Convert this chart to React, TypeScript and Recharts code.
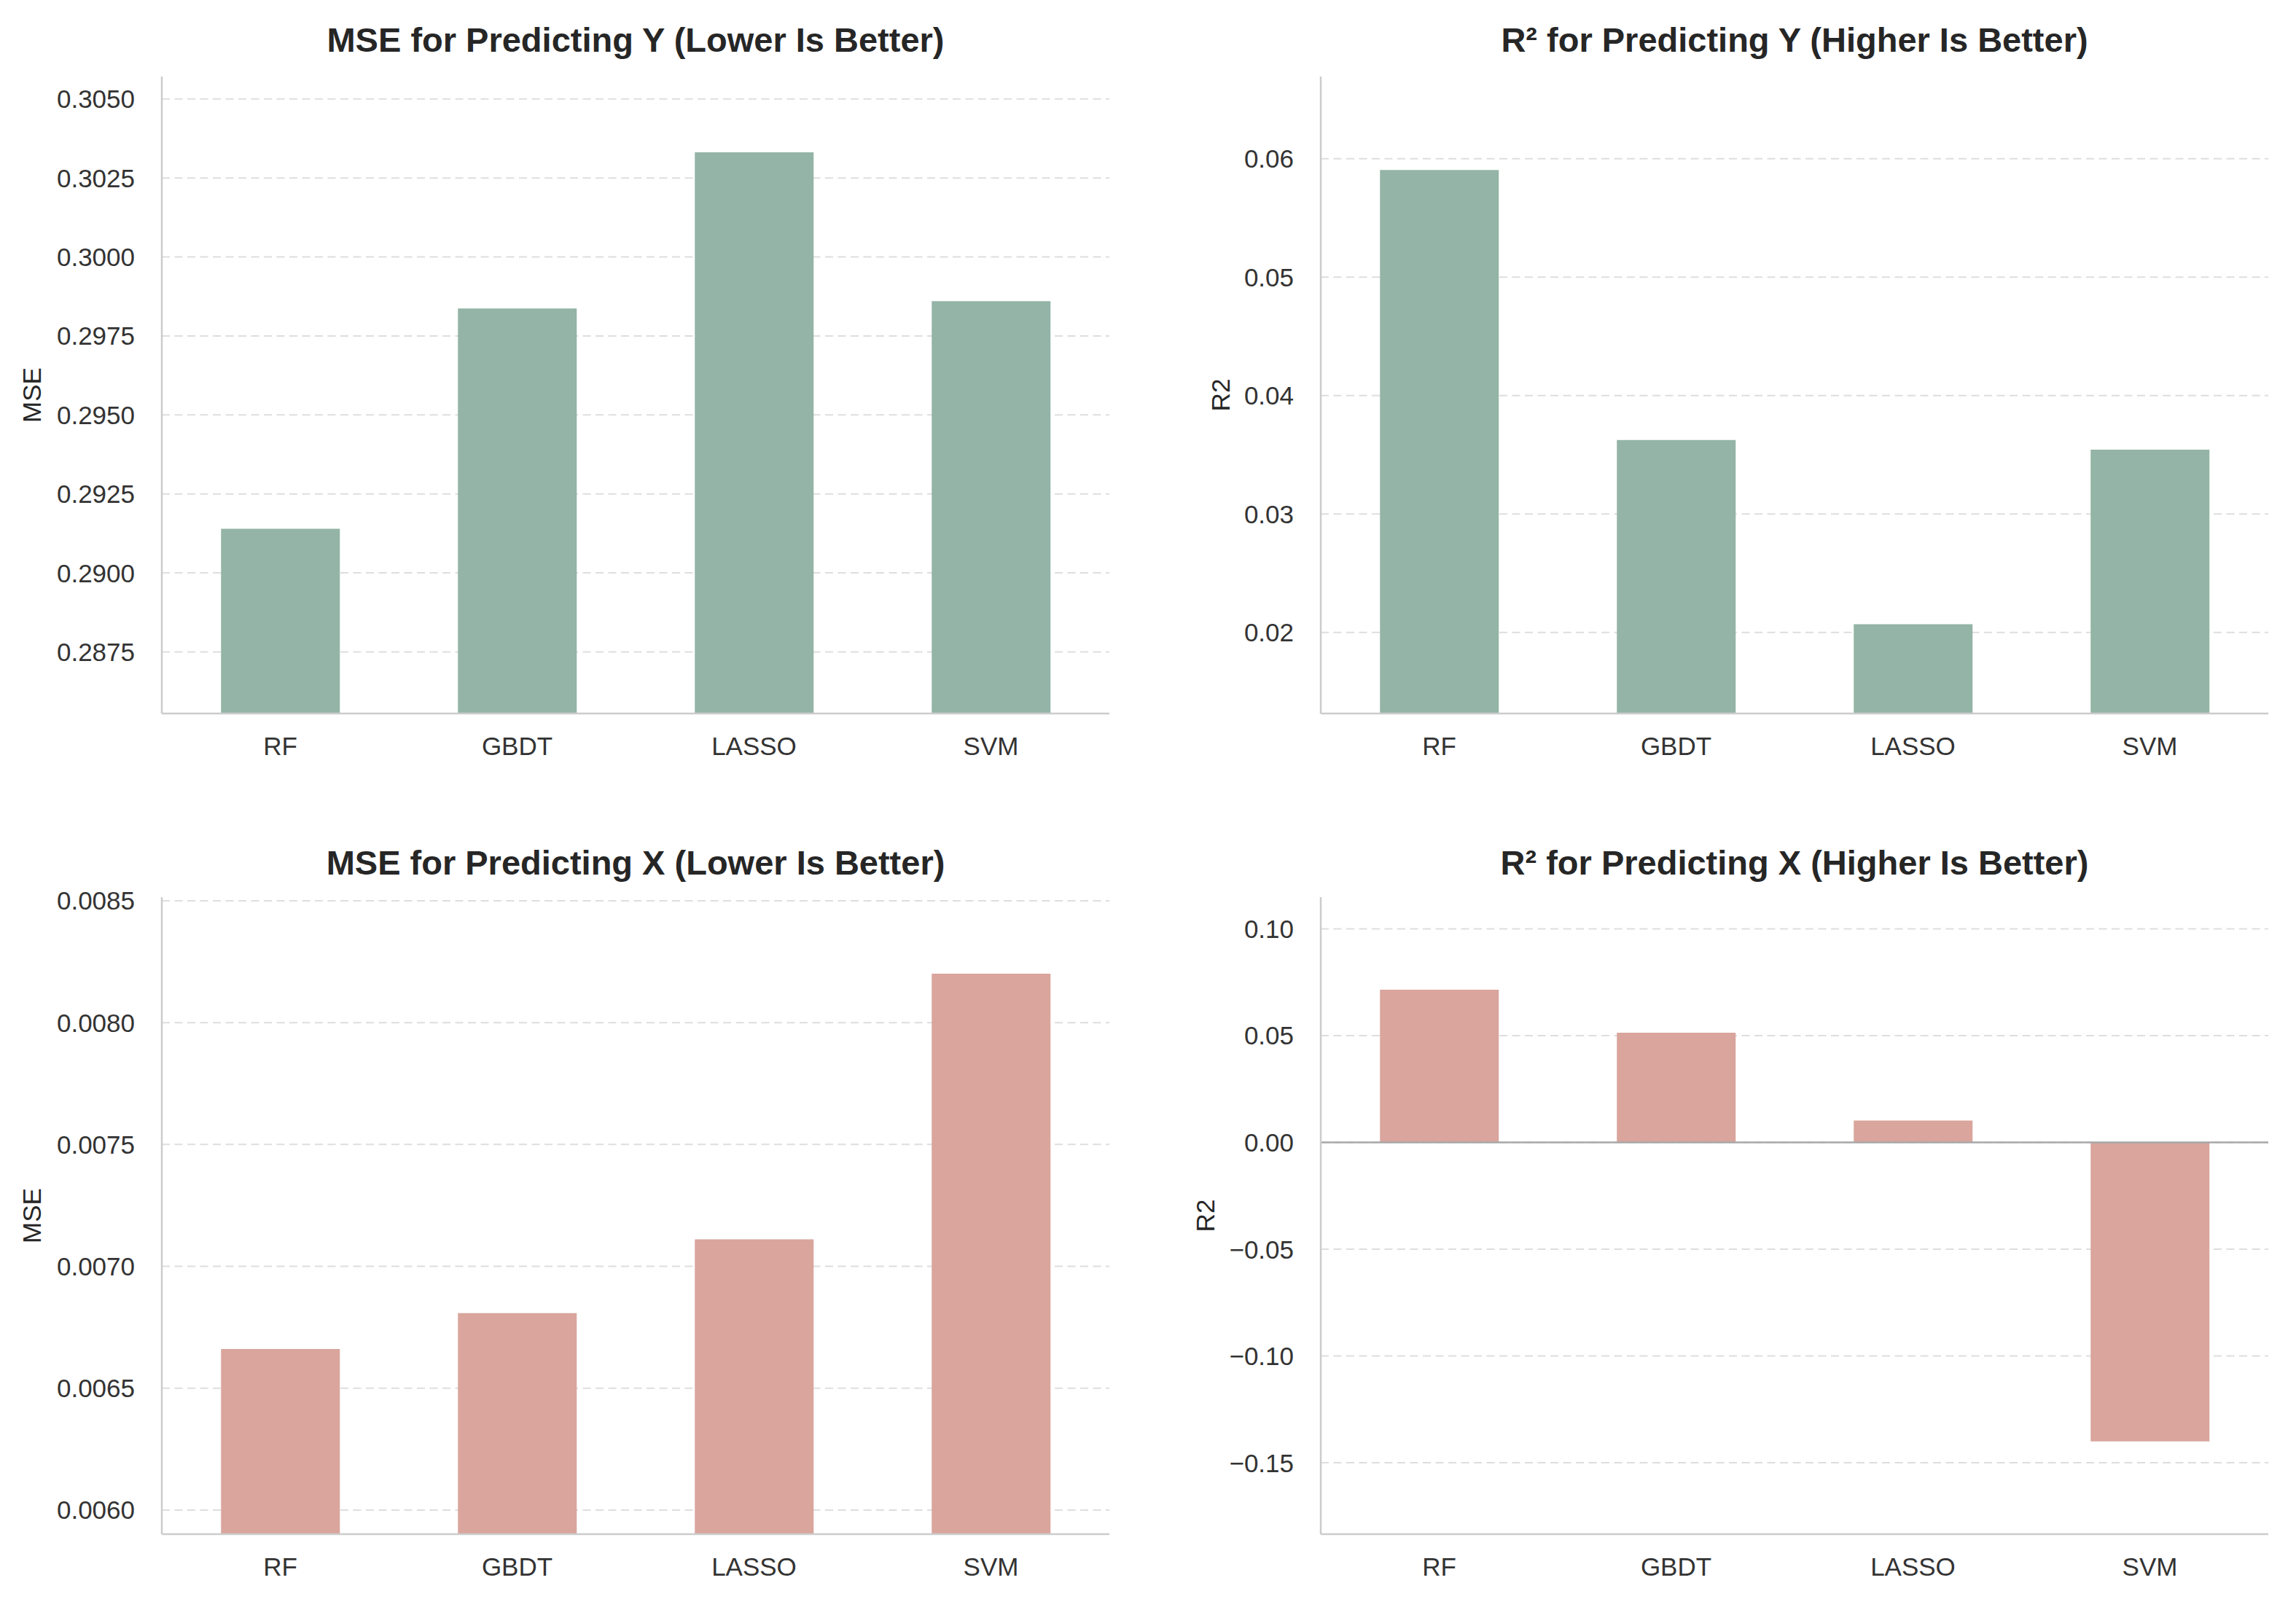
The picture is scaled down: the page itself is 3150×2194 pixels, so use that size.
import React from 'react';
import { BarChart, Bar, XAxis, YAxis, CartesianGrid, ReferenceLine } from 'recharts';

// models on the x axis
const models = ['RF', 'GBDT', 'LASSO', 'SVM'];

// values
const mseY = [0.2914, 0.29837, 0.30331, 0.2986];
const r2Y = [0.05905, 0.03625, 0.02069, 0.03543];
const mseX = [0.006661, 0.006808, 0.007111, 0.008201];
const r2X = [0.0715, 0.0514, 0.0103, -0.14];

// tick labels
const mseYTicks = [0.2875, 0.29, 0.2925, 0.295, 0.2975, 0.3, 0.3025, 0.305];
const r2YTicks = [0.02, 0.03, 0.04, 0.05, 0.06];
const mseXTicks = [0.006, 0.0065, 0.007, 0.0075, 0.008, 0.0085];
const r2XTicks = [-0.15, -0.1, -0.05, 0, 0.05, 0.1];

const GREEN = '#93b4a6';
const PINK = '#d9a59c';
const FONT = '"Liberation Sans", Arial, Helvetica, sans-serif';

const PLOT_W = 1300;
const PLOT_H = 874;
const PAD_L = 200;
const PAD_R = 20;
const PAD_T = 20;
const PAD_B = 90;

interface PanelProps {
  left: number;
  top: number;
  title: string;
  titleTop: number;
  yLabel: string;
  yLabelX: number;
  values: number[];
  color: string;
  domain: [number, number];
  ticks: number[];
  digits: number;
  zero?: boolean;
}

const fmt = (digits: number) => (v: number) =>
  v < 0 ? '\u2212' + Math.abs(v).toFixed(digits) : v.toFixed(digits);

const Panel: React.FC<PanelProps> = ({
  left, top, title, titleTop, yLabel, yLabelX, values, color, domain, ticks, digits, zero,
}) => {
  const data = models.map((m, i) => ({ model: m, value: values[i] }));
  const tickStyle = { fontSize: 35, fill: '#333333', fontFamily: FONT };

  return (
    <>
      <div
        style={{
          position: 'absolute',
          left,
          top: titleTop,
          width: PLOT_W,
          textAlign: 'center',
          fontFamily: FONT,
          fontWeight: 'bold',
          fontSize: 47,
          lineHeight: 1,
          color: '#262626',
          whiteSpace: 'nowrap',
        }}
      >
        {title}
      </div>
      <div
        style={{
          position: 'absolute',
          left: yLabelX,
          top: top + PLOT_H / 2,
          transform: 'translate(-50%, -50%) rotate(-90deg)',
          fontFamily: FONT,
          fontSize: 35,
          lineHeight: 1,
          color: '#262626',
          whiteSpace: 'nowrap',
        }}
      >
        {yLabel}
      </div>
      <div style={{ position: 'absolute', left: left - PAD_L, top: top - PAD_T }}>
        <BarChart
          width={PLOT_W + PAD_L + PAD_R}
          height={PLOT_H + PAD_T + PAD_B}
          data={data}
          margin={{ top: PAD_T, right: PAD_R, left: 0, bottom: 0 }}
          barCategoryGap="25%"
        >
          <CartesianGrid
            vertical={false}
            syncWithTicks
            stroke="#dedede"
            strokeWidth={2}
            strokeDasharray="11 6.5"
          />
          <XAxis
            dataKey="model"
            height={PAD_B}
            interval={0}
            tickLine={false}
            tickSize={0}
            tickMargin={32}
            axisLine={{ stroke: '#cccccc', strokeWidth: 2.5 }}
            tick={tickStyle}
          />
          <YAxis
            type="number"
            width={PAD_L}
            domain={domain}
            ticks={ticks}
            allowDataOverflow
            interval={0}
            tickLine={false}
            tickSize={0}
            tickMargin={37}
            axisLine={{ stroke: '#cccccc', strokeWidth: 2.5 }}
            tick={tickStyle}
            tickFormatter={fmt(digits)}
          />
          <Bar dataKey="value" fill={color} isAnimationActive={false} />
          {zero && <ReferenceLine y={0} stroke="#a8a8a8" strokeWidth={2.5} />}
        </BarChart>
      </div>
    </>
  );
};

export default function App() {
  return (
    <div
      style={{
        position: 'absolute',
        left: 0,
        top: 0,
        width: 3150,
        height: 2194,
        background: '#ffffff',
        overflow: 'hidden',
      }}
    >
      <Panel
        left={222}
        top={105}
        title="MSE for Predicting Y (Lower Is Better)"
        titleTop={31}
        yLabel="MSE"
        yLabelX={43}
        values={mseY}
        color={GREEN}
        domain={[0.28555, 0.30571]}
        ticks={mseYTicks}
        digits={4}
      />
      <Panel
        left={1812}
        top={105}
        title="R² for Predicting Y (Higher Is Better)"
        titleTop={31}
        yLabel="R2"
        yLabelX={1674}
        values={r2Y}
        color={GREEN}
        domain={[0.01315, 0.06694]}
        ticks={r2YTicks}
        digits={2}
      />
      <Panel
        left={222}
        top={1231}
        title="MSE for Predicting X (Lower Is Better)"
        titleTop={1160}
        yLabel="MSE"
        yLabelX={43}
        values={mseX}
        color={PINK}
        domain={[0.005901, 0.008515]}
        ticks={mseXTicks}
        digits={4}
      />
      <Panel
        left={1812}
        top={1231}
        title="R² for Predicting X (Higher Is Better)"
        titleTop={1160}
        yLabel="R2"
        yLabelX={1653}
        values={r2X}
        color={PINK}
        domain={[-0.1834, 0.11485]}
        ticks={r2XTicks}
        digits={2}
        zero
      />
    </div>
  );
}
